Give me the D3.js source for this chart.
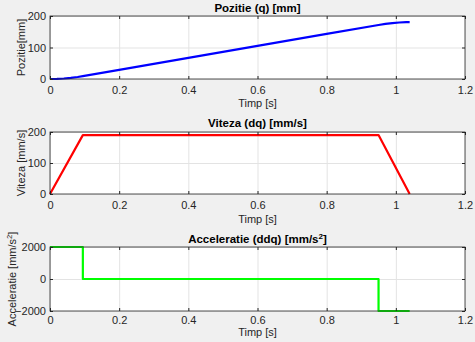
<!DOCTYPE html>
<html>
<head>
<meta charset="utf-8">
<script src="https://cdn.jsdelivr.net/npm/d3@7"></script>
<style>
  html, body { margin: 0; padding: 0; background: #f0f0f0; }
  svg { display: block; font-family: "Liberation Sans", Arial, sans-serif; }
</style>
</head>
<body>
<div id="chart"></div>
<script>
// time samples and values
const timePos = [0, 0.02, 0.04, 0.06, 0.08, 0.095, 0.2, 0.4, 0.6, 0.8, 0.95, 0.97, 0.99, 1.01, 1.03, 1.04];
const pozitie = [0, 0.4, 1.6, 3.6, 6.4, 9.0, 29, 67, 105, 143, 171.5, 174.9, 177.5, 179.3, 180.3, 180.5];

const timeVel = [0, 0.095, 0.95, 1.04];
const viteza  = [0, 190, 190, 0];

const timeAcc = [0, 0.095, 0.095, 0.95, 0.95, 1.04];
const acceleratie = [2000, 2000, 0, 0, -2000, -2000];

const xTicks = [0, 0.2, 0.4, 0.6, 0.8, 1, 1.2];

const W = 475, H = 342;
const svg = d3.select('#chart').append('svg').attr('width', W).attr('height', H);

const x = d3.scaleLinear().domain([0, 1.2]).range([50, 465]);

const panels = [
  { t: timePos, v: pozitie, dom: [0, 200], ticks: [0, 100, 200], top: 16, bot: 79,
    color: '#0000ff', title: ['Pozitie (q) [mm]'], ylab: ['Pozitie[mm]'], ylx: 25, titleDy: -4, tlDy: 28, pad: 7 },
  { t: timeVel, v: viteza, dom: [0, 200], ticks: [0, 100, 200], top: 132, bot: 194,
    color: '#ff0000', title: ['Viteza (dq) [mm/s]'], ylab: ['Viteza [mm/s]'], ylx: 25, titleDy: -5, tlDy: 29, pad: 7 },
  { t: timeAcc, v: acceleratie, dom: [-2000, 2000], ticks: [-2000, 0, 2000], top: 247, bot: 311,
    color: '#00ff00', title: ['Acceleratie (ddq) [mm/s', '2', ']'], ylab: ['Acceleratie [mm/s', '2', ']'], ylx: 16, titleDy: -4, tlDy: 25, pad: 5 }
];

function richText(sel, parts) {
  parts.forEach((p, i) => {
    const ts = sel.append('tspan').text(p);
    if (i === 1) ts.attr('baseline-shift', 'super').attr('font-size', '0.7em');
  });
}

panels.forEach(p => {
  const y = d3.scaleLinear().domain(p.dom).range([p.bot, p.top]);
  const g = svg.append('g');

  g.append('rect').attr('x', x.range()[0]).attr('y', p.top)
    .attr('width', x.range()[1] - x.range()[0]).attr('height', p.bot - p.top)
    .attr('fill', '#fff');

  // grid
  g.append('g').attr('transform', `translate(0,${p.bot})`)
    .call(d3.axisBottom(x).tickValues(xTicks).tickSize(-(p.bot - p.top)).tickFormat(''))
    .call(a => a.select('.domain').remove())
    .selectAll('line').attr('stroke', '#e3e3e3');
  g.append('g').attr('transform', `translate(${x.range()[0]},0)`)
    .call(d3.axisLeft(y).tickValues(p.ticks).tickSize(-(x.range()[1] - x.range()[0])).tickFormat(''))
    .call(a => a.select('.domain').remove())
    .selectAll('line').attr('stroke', '#e3e3e3');

  // data line
  const line = d3.line().x((d, i) => x(p.t[i])).y(d => y(d));
  g.append('path').datum(p.v).attr('d', line)
    .attr('fill', 'none').attr('stroke', p.color).attr('stroke-width', 2.2)
    .attr('stroke-linejoin', 'round');

  // axes with inward ticks
  const xa = g.append('g').attr('transform', `translate(0,${p.bot})`)
    .call(d3.axisBottom(x).tickValues(xTicks).tickSizeInner(-3).tickSizeOuter(0)
      .tickPadding(p.pad).tickFormat(d3.format('~g')));
  const xt = g.append('g').attr('transform', `translate(0,${p.top})`)
    .call(d3.axisTop(x).tickValues(xTicks).tickSizeInner(-3).tickSizeOuter(0).tickFormat(''));
  const ya = g.append('g').attr('transform', `translate(${x.range()[0]},0)`)
    .call(d3.axisLeft(y).tickValues(p.ticks).tickSizeInner(-3).tickSizeOuter(0)
      .tickPadding(4).tickFormat(d3.format('d')));
  const yr = g.append('g').attr('transform', `translate(${x.range()[1]},0)`)
    .call(d3.axisRight(y).tickValues(p.ticks).tickSizeInner(-3).tickSizeOuter(0).tickFormat(''));
  [xa, xt, ya, yr].forEach(a => {
    a.select('.domain').remove();
    a.selectAll('line').attr('stroke', '#262626');
    a.selectAll('text').attr('fill', '#262626').attr('font-size', 11)
      .attr('font-family', '"Liberation Sans", Arial, sans-serif');
  });

  g.append('rect').attr('x', x.range()[0]).attr('y', p.top)
    .attr('width', x.range()[1] - x.range()[0]).attr('height', p.bot - p.top)
    .attr('fill', 'none').attr('stroke', '#262626').attr('stroke-width', 0.8);

  // title
  const tt = g.append('text').attr('x', (x.range()[0] + x.range()[1]) / 2).attr('y', p.top + p.titleDy)
    .attr('text-anchor', 'middle').attr('font-weight', 'bold').attr('font-size', 11.5).attr('fill', '#000');
  richText(tt, p.title);

  // x label
  g.append('text').attr('x', (x.range()[0] + x.range()[1]) / 2).attr('y', p.bot + p.tlDy)
    .attr('text-anchor', 'middle').attr('font-size', 11).attr('fill', '#262626').text('Timp [s]');

  // y label
  const yl = g.append('text')
    .attr('transform', `translate(${p.ylx},${(p.top + p.bot) / 2}) rotate(-90)`)
    .attr('text-anchor', 'middle').attr('font-size', 11).attr('fill', '#262626');
  richText(yl, p.ylab);
});
</script>
</body>
</html>
